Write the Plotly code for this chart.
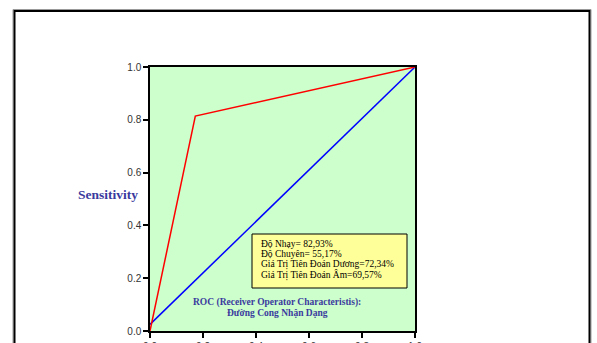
import plotly.graph_objects as go

# ROC curve points (1 - specificity, sensitivity)
roc_fpr = [0.0, 0.171, 1.0]
roc_tpr = [0.0, 0.814, 1.0]

# Reference line
ref_x = [0.0, 1.0]
ref_y = [0.025, 1.0]

tick_vals = [0.0, 0.2, 0.4, 0.6, 0.8, 1.0]
tick_text = ["0.0", "0.2", "0.4", "0.6", "0.8", "1.0"]

stats_lines = [
    "Độ Nhạy= 82,93%",
    "Độ Chuyên= 55,17%",
    "Giá Trị Tiên Đoán Dương=72,34%",
    "Giá Trị Tiên Đoán Âm=69,57%",
]
caption_lines = ["ROC (Receiver Operator Characteristis):", "Đường Cong Nhận Dạng"]

W, H = 597, 343
L, R, T, B = 150, 182, 67, 12
pw, ph = W - L - R, H - T - B


def px(x):
    return (x - L) / pw


def py(y):
    return (H - B - y) / ph


fig = go.Figure()
fig.add_trace(go.Scatter(x=ref_x, y=ref_y, mode="lines",
                         line=dict(color="#0000ff", width=1.5), hoverinfo="skip"))
fig.add_trace(go.Scatter(x=roc_fpr, y=roc_tpr, mode="lines",
                         line=dict(color="#ff0000", width=1.5), hoverinfo="skip"))

axis_common = dict(
    range=[0, 1], tickvals=tick_vals, ticktext=tick_text,
    ticks="outside", ticklen=5, tickwidth=1.5, tickcolor="black",
    showline=True, linecolor="black", linewidth=1.5, mirror=True,
    showgrid=False, zeroline=False, automargin=False,
    tickfont=dict(family="Liberation Sans, Arial", size=10, color="#333333"),
)

fig.update_layout(
    width=W, height=H,
    margin=dict(l=L, r=R, t=T, b=B, autoexpand=False),
    paper_bgcolor="white", plot_bgcolor="#ccffcc",
    showlegend=False,
    xaxis=dict(**axis_common),
    yaxis=dict(**axis_common),
)

# Outer double frame (gray outline with black inner line)
fig.add_shape(type="rect", xref="paper", yref="paper",
              x0=px(13), x1=px(591), y0=py(360), y1=py(9.5),
              line=dict(color="#999999", width=1), fillcolor="rgba(0,0,0,0)", layer="below")
fig.add_shape(type="rect", xref="paper", yref="paper",
              x0=px(14.5), x1=px(589.5), y0=py(360), y1=py(11),
              line=dict(color="black", width=2), fillcolor="rgba(0,0,0,0)", layer="below")

# Statistics box
fig.add_shape(type="rect", xref="paper", yref="paper",
              x0=px(252), x1=px(407), y0=py(288), y1=py(234),
              line=dict(color="black", width=1), fillcolor="#ffff99")
for i, line in enumerate(stats_lines):
    fig.add_annotation(xref="paper", yref="paper", x=px(259), y=py(244 + i * 10.4),
                       text=line, showarrow=False, xanchor="left", yanchor="middle",
                       font=dict(family="Liberation Serif, Times New Roman", size=9.5, color="black"))

# Caption inside plot
for i, line in enumerate(caption_lines):
    fig.add_annotation(xref="paper", yref="paper", x=px(277), y=py(302 + i * 10.5),
                       text="<b>" + line + "</b>", showarrow=False, xanchor="center", yanchor="middle",
                       font=dict(family="Liberation Serif, Times New Roman", size=9.5, color="#3a3a9e"))

# Y axis title
fig.add_annotation(xref="paper", yref="paper", x=px(108), y=py(194),
                   text="<b>Sensitivity</b>", showarrow=False, xanchor="center", yanchor="middle",
                   font=dict(family="Liberation Serif, Times New Roman", size=13.5, color="#3a3a9e"))

fig.write_html("out.html")
